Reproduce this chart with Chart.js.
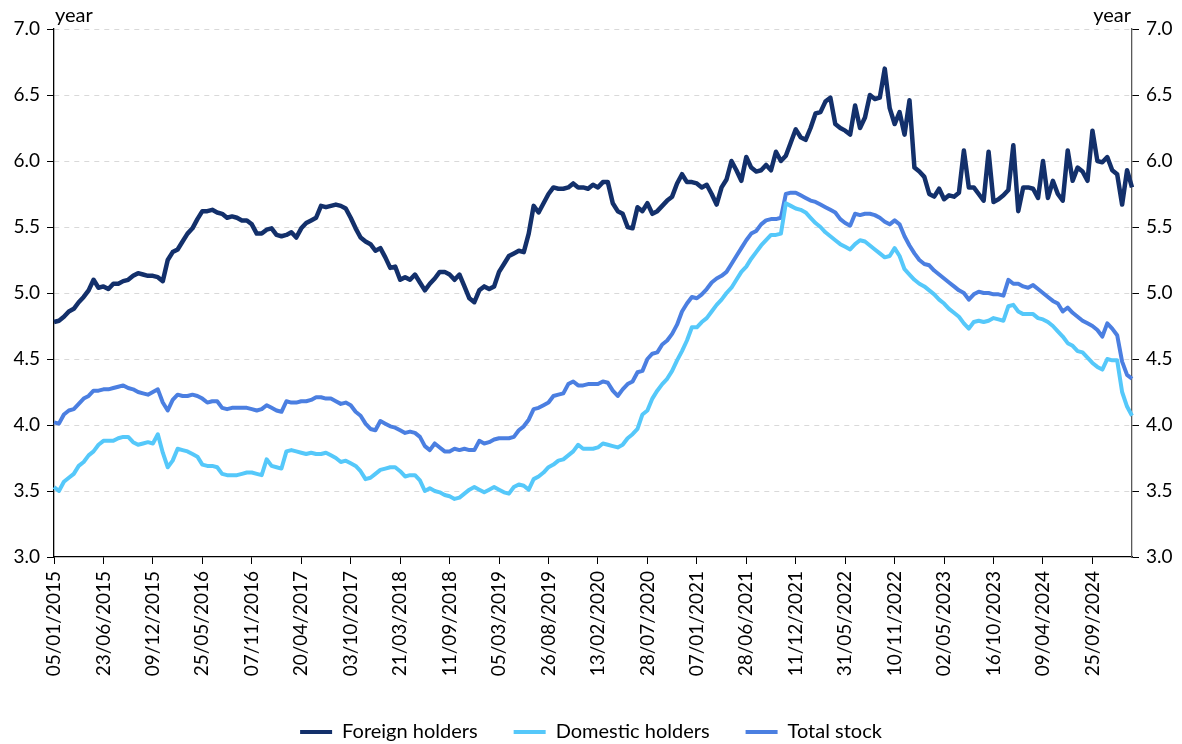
<!DOCTYPE html>
<html>
<head>
<meta charset="utf-8">
<title>Average maturity by holder</title>
<script src="https://cdn.jsdelivr.net/npm/chart.js@4/dist/chart.umd.min.js"></script>
<style>
  html, body { margin: 0; padding: 0; background: #fff; }
  #wrap { width: 1182px; height: 744px; }
</style>
</head>
<body>
<div id="wrap"><canvas id="maturity-chart" width="1182" height="744"></canvas></div>
<script>
// tick dates shown on the x axis, one every 10 samples
var tickDates = ["05/01/2015", "23/06/2015", "09/12/2015", "25/05/2016", "07/11/2016",
  "20/04/2017", "03/10/2017", "21/03/2018", "11/09/2018", "05/03/2019", "26/08/2019",
  "13/02/2020", "28/07/2020", "07/01/2021", "28/06/2021", "11/12/2021", "31/05/2022",
  "10/11/2022", "02/05/2023", "16/10/2023", "09/04/2024", "25/09/2024"];
var samplesPerTick = 10;

var yTicks = [3.0, 3.5, 4.0, 4.5, 5.0, 5.5, 6.0, 6.5, 7.0];

var seriesNames = ["Foreign holders", "Domestic holders", "Total stock"];

// years (about every 2 weeks)
var foreignHolders = [
  4.78, 4.79, 4.82, 4.86, 4.88, 4.93, 4.97, 5.02, 5.10, 5.04, 5.05, 5.03, 5.07, 5.07, 5.09, 5.10,
  5.13, 5.15, 5.14, 5.13, 5.13, 5.12, 5.09, 5.25, 5.31, 5.33, 5.39, 5.45, 5.49, 5.56, 5.62, 5.62,
  5.63, 5.61, 5.60, 5.57, 5.58, 5.57, 5.55, 5.55, 5.52, 5.45, 5.45, 5.48, 5.49, 5.44, 5.43, 5.44,
  5.46, 5.42, 5.49, 5.53, 5.55, 5.57, 5.66, 5.65, 5.66, 5.67, 5.66, 5.64, 5.57, 5.49, 5.42, 5.39, 5.37,
  5.32, 5.34, 5.27, 5.19, 5.20, 5.10, 5.12, 5.10, 5.14, 5.08, 5.02, 5.07, 5.11, 5.16, 5.16, 5.14,
  5.10, 5.14, 5.05, 4.96, 4.93, 5.02, 5.05, 5.03, 5.05, 5.16, 5.22, 5.28, 5.30, 5.32, 5.31, 5.45,
  5.66, 5.61, 5.68, 5.75, 5.80, 5.79, 5.79, 5.80, 5.83, 5.80, 5.80, 5.79, 5.82, 5.80, 5.84, 5.84,
  5.68, 5.62, 5.60, 5.50, 5.49, 5.65, 5.62, 5.68, 5.60, 5.62, 5.66, 5.70, 5.73, 5.83, 5.90, 5.84, 5.84,
  5.83, 5.80, 5.82, 5.75, 5.67, 5.80, 5.86, 6.00, 5.93, 5.85, 6.03, 5.95, 5.92, 5.93, 5.97, 5.93,
  6.07, 6.00, 6.04, 6.14, 6.24, 6.18, 6.16, 6.25, 6.36, 6.37, 6.45, 6.48, 6.28, 6.25, 6.23, 6.20,
  6.42, 6.25, 6.33, 6.50, 6.47, 6.48, 6.70, 6.40, 6.28, 6.37, 6.20, 6.46, 5.95, 5.92, 5.88, 5.75,
  5.73, 5.79, 5.71, 5.74, 5.73, 5.76, 6.08, 5.80, 5.80, 5.75, 5.70, 6.07, 5.69, 5.71, 5.74, 5.78, 6.12,
  5.62, 5.80, 5.80, 5.79, 5.72, 6.00, 5.72, 5.85, 5.75, 5.70, 6.08, 5.85, 5.95, 5.92, 5.85, 6.23,
  6.00, 5.99, 6.03, 5.93, 5.90, 5.67, 5.93, 5.80
];

var domesticHolders = [
  3.53, 3.50, 3.57, 3.60, 3.63, 3.69, 3.72, 3.77, 3.80, 3.85, 3.88, 3.88, 3.88, 3.90, 3.91, 3.91,
  3.87, 3.85, 3.86, 3.87, 3.86, 3.93, 3.79, 3.68, 3.73, 3.82, 3.81, 3.80, 3.78, 3.76, 3.70, 3.69,
  3.69, 3.68, 3.63, 3.62, 3.62, 3.62, 3.63, 3.64, 3.64, 3.63, 3.62, 3.74, 3.69, 3.68, 3.67, 3.80,
  3.81, 3.80, 3.79, 3.78, 3.79, 3.78, 3.78, 3.79, 3.77, 3.75, 3.72, 3.73, 3.71, 3.69, 3.65, 3.59, 3.60,
  3.63, 3.66, 3.67, 3.68, 3.68, 3.65, 3.61, 3.62, 3.62, 3.58, 3.50, 3.52, 3.50, 3.49, 3.47, 3.46,
  3.44, 3.45, 3.48, 3.51, 3.53, 3.51, 3.49, 3.51, 3.53, 3.51, 3.49, 3.48, 3.53, 3.55, 3.54, 3.51,
  3.59, 3.61, 3.64, 3.68, 3.70, 3.73, 3.74, 3.77, 3.80, 3.85, 3.82, 3.82, 3.82, 3.83, 3.86, 3.85,
  3.84, 3.83, 3.85, 3.90, 3.93, 3.97, 4.08, 4.11, 4.20, 4.26, 4.31, 4.35, 4.41, 4.49, 4.56, 4.64, 4.74,
  4.74, 4.78, 4.81, 4.86, 4.91, 4.95, 5.00, 5.04, 5.10, 5.16, 5.20, 5.26, 5.31, 5.36, 5.40, 5.44,
  5.44, 5.45, 5.68, 5.66, 5.64, 5.63, 5.61, 5.57, 5.53, 5.50, 5.46, 5.43, 5.40, 5.37, 5.35, 5.33,
  5.37, 5.40, 5.39, 5.36, 5.33, 5.30, 5.27, 5.28, 5.34, 5.28, 5.18, 5.14, 5.10, 5.07, 5.05, 5.02,
  4.99, 4.95, 4.92, 4.88, 4.85, 4.82, 4.77, 4.73, 4.78, 4.79, 4.78, 4.79, 4.81, 4.80, 4.79, 4.90, 4.91,
  4.86, 4.84, 4.84, 4.84, 4.81, 4.80, 4.78, 4.75, 4.71, 4.67, 4.62, 4.60, 4.56, 4.55, 4.51, 4.47,
  4.44, 4.42, 4.50, 4.49, 4.49, 4.25, 4.14, 4.07
];

var totalStock = [
  4.02, 4.01, 4.08, 4.11, 4.12, 4.16, 4.20, 4.22, 4.26, 4.26, 4.27, 4.27, 4.28, 4.29, 4.30, 4.28,
  4.27, 4.25, 4.24, 4.23, 4.25, 4.27, 4.17, 4.11, 4.19, 4.23, 4.22, 4.22, 4.23, 4.22, 4.20, 4.17,
  4.18, 4.18, 4.13, 4.12, 4.13, 4.13, 4.13, 4.13, 4.12, 4.11, 4.12, 4.15, 4.13, 4.11, 4.10, 4.18,
  4.17, 4.17, 4.18, 4.18, 4.19, 4.21, 4.21, 4.20, 4.20, 4.18, 4.16, 4.17, 4.15, 4.10, 4.07, 4.01, 3.97,
  3.96, 4.03, 4.01, 3.99, 3.98, 3.96, 3.94, 3.95, 3.94, 3.91, 3.84, 3.81, 3.86, 3.83, 3.80, 3.80,
  3.82, 3.81, 3.82, 3.81, 3.81, 3.88, 3.86, 3.87, 3.89, 3.90, 3.90, 3.90, 3.91, 3.96, 3.99, 4.04,
  4.12, 4.13, 4.15, 4.17, 4.22, 4.23, 4.24, 4.31, 4.33, 4.30, 4.30, 4.31, 4.31, 4.31, 4.33, 4.32,
  4.26, 4.22, 4.27, 4.31, 4.33, 4.40, 4.41, 4.50, 4.54, 4.55, 4.61, 4.64, 4.69, 4.76, 4.86, 4.92, 4.97,
  4.96, 4.99, 5.03, 5.08, 5.11, 5.13, 5.16, 5.22, 5.28, 5.34, 5.40, 5.45, 5.47, 5.52, 5.55, 5.56,
  5.56, 5.57, 5.75, 5.76, 5.76, 5.74, 5.72, 5.70, 5.69, 5.67, 5.65, 5.63, 5.61, 5.56, 5.53, 5.51,
  5.60, 5.59, 5.60, 5.60, 5.59, 5.57, 5.54, 5.52, 5.55, 5.52, 5.43, 5.36, 5.30, 5.25, 5.22, 5.21,
  5.17, 5.14, 5.11, 5.08, 5.05, 5.02, 5.00, 4.95, 4.99, 5.01, 5.00, 5.00, 4.99, 4.99, 4.98, 5.10, 5.07,
  5.07, 5.05, 5.04, 5.06, 5.03, 5.00, 4.97, 4.94, 4.92, 4.86, 4.89, 4.85, 4.82, 4.79, 4.77, 4.75,
  4.72, 4.67, 4.77, 4.73, 4.68, 4.48, 4.38, 4.35
];

var colorForeign = "#13306b";
var colorDomestic = "#55c8fa";
var colorTotal = "#4b7fe1";

// one category per sample, the date only on every 10th
var labels = [];
for (var i = 0; i < foreignHolders.length; i++) {
  labels[i] = i % samplesPerTick == 0 ? tickDates[i / samplesPerTick] : "";
}

// "year" unit over both y axes
var unitLabels = {
  id: "unitLabels",
  afterDraw: function (chart) {
    var ctx = chart.ctx;
    var area = chart.chartArea;
    ctx.save();
    ctx.font = "20px Lato";
    ctx.fillStyle = "#000";
    ctx.textBaseline = "alphabetic";
    ctx.textAlign = "left";
    ctx.fillText("year", area.left + 1, 22);
    ctx.textAlign = "right";
    ctx.fillText("year", area.right - 1, 22);
    ctx.restore();
  },
};

function lineSet(name, values, color, width) {
  return {
    label: name,
    data: values,
    borderColor: color,
    backgroundColor: color,
    borderWidth: width,
    borderJoinStyle: "round",
    pointRadius: 0,
    tension: 0,
    fill: false,
  };
}

var tickFont = { family: "Lato", size: 19 };

new Chart(document.getElementById("maturity-chart"), {
  type: "line",
  data: {
    labels: labels,
    datasets: [
      lineSet(seriesNames[0], foreignHolders, colorForeign, 4.5),
      lineSet(seriesNames[1], domesticHolders, colorDomestic, 4),
      lineSet(seriesNames[2], totalStock, colorTotal, 4),
    ],
  },
  options: {
    responsive: false,
    animation: false,
    layout: { padding: { left: 0, right: 0, top: 29, bottom: -8 } },
    plugins: {
      tooltip: { enabled: false },
      legend: {
        position: "bottom",
        labels: {
          boxWidth: 32,
          boxHeight: 4,
          padding: 36,
          color: "#000",
          font: { family: "Lato", size: 20 },
          generateLabels: function (chart) {
            var items = Chart.defaults.plugins.legend.labels.generateLabels(chart);
            items.forEach(function (it) {
              it.lineWidth = 0;
            });
            return items;
          },
        },
      },
    },
    scales: {
      x: {
        type: "category",
        offset: false,
        afterFit: function (scale) {
          scale.height = 129;
        },
        grid: {
          drawOnChartArea: false,
          tickLength: 7,
          tickColor: function (c) {
            return c.index % samplesPerTick == 0 ? "#000" : "rgba(0,0,0,0)";
          },
        },
        border: { color: "#000", width: 1.3 },
        ticks: {
          autoSkip: false,
          maxRotation: 90,
          minRotation: 90,
          padding: 7,
          color: "#000",
          font: { family: "Lato", size: 19 },
        },
      },
      y: {
        position: "left",
        min: 3,
        max: 7,
        afterFit: function (scale) {
          scale.width = 54;
        },
        afterBuildTicks: function (scale) {
          scale.ticks = yTicks.map(function (v) { return { value: v }; });
        },
        grid: {
          color: function (c) {
            return c.tick && c.tick.value == 3 ? "rgba(0,0,0,0)" : "#d9d9d9";
          },
          lineWidth: 1,
          tickLength: 7,
          tickColor: "#000",
        },
        border: { color: "#000", width: 1.3, dash: [5, 5] },
        ticks: {
          padding: 7,
          color: "#000",
          font: tickFont,
          callback: function (v) {
            return Number(v).toFixed(1);
          },
        },
      },
      y2: {
        position: "right",
        min: 3,
        max: 7,
        afterFit: function (scale) {
          scale.width = 50;
        },
        afterBuildTicks: function (scale) {
          scale.ticks = yTicks.map(function (v) { return { value: v }; });
        },
        grid: {
          drawOnChartArea: false,
          tickLength: 7,
          tickColor: "#000",
        },
        border: { color: "#595959", width: 1.3 },
        ticks: {
          padding: 7,
          color: "#000",
          font: tickFont,
          callback: function (v) {
            return Number(v).toFixed(1);
          },
        },
      },
    },
  },
  plugins: [unitLabels],
});
</script>
</body>
</html>
